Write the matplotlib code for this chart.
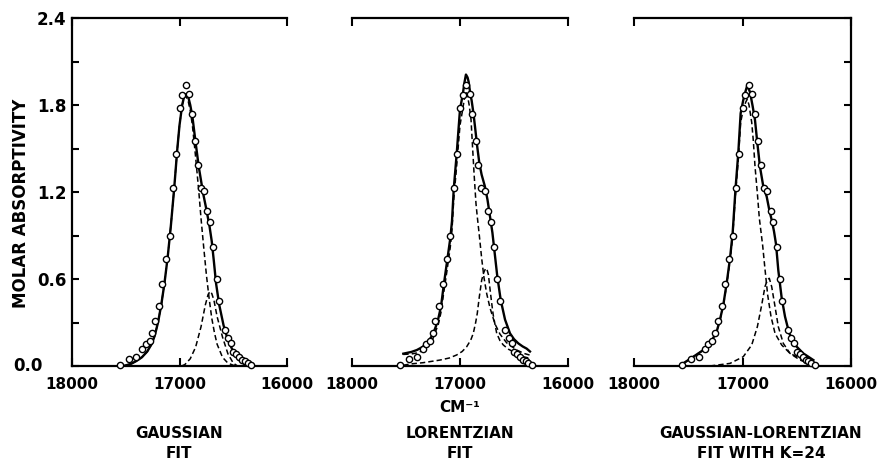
import matplotlib.pyplot as plt

plt.rcParams['font.family'] = ['DejaVu Sans']

# observed spectrum (same points in all three panels)
obs_wn = [17558, 17474, 17402, 17346, 17315, 17278, 17252, 17227, 17193, 17162,
          17124, 17091, 17059, 17031, 17000, 16975, 16941, 16909, 16885, 16853,
          16829, 16801, 16773, 16741, 16717, 16685, 16654, 16633, 16579, 16549,
          16523, 16498, 16474, 16442, 16418, 16393, 16367, 16336]
obs_abs = [0.01, 0.05, 0.065, 0.12, 0.155, 0.175, 0.225, 0.31, 0.415, 0.565,
           0.74, 0.90, 1.225, 1.46, 1.78, 1.87, 1.94, 1.875, 1.74, 1.555,
           1.385, 1.225, 1.205, 1.07, 0.99, 0.82, 0.60, 0.45, 0.25, 0.19,
           0.16, 0.095, 0.085, 0.06, 0.04, 0.035, 0.02, 0.01]

# gaussian fit
g_total_wn = [17520, 17450, 17400, 17350, 17300, 17260, 17230, 17200, 17170, 17140,
              17110, 17080, 17050, 17020, 17000, 16975, 16955, 16940, 16920, 16900,
              16880, 16850, 16820, 16780, 16750, 16720, 16700, 16680, 16660, 16630,
              16590, 16550, 16500, 16450, 16400, 16340]
g_total = [0.0, 0.015, 0.035, 0.06, 0.10, 0.15, 0.21, 0.30, 0.42, 0.57,
           0.75, 0.97, 1.22, 1.50, 1.66, 1.80, 1.865, 1.875, 1.86, 1.80,
           1.72, 1.54, 1.37, 1.19, 1.08, 0.96, 0.86, 0.72, 0.57, 0.42,
           0.28, 0.18, 0.10, 0.045, 0.015, 0.0]
g_band1_wn = [17520, 17450, 17400, 17350, 17300, 17260, 17230, 17200, 17170, 17140,
              17110, 17080, 17050, 17020, 17000, 16975, 16955, 16940, 16920, 16900,
              16880, 16850, 16820, 16800, 16775, 16750, 16725, 16700, 16675, 16650,
              16600, 16550, 16500, 16450]
g_band1 = [0.0, 0.015, 0.035, 0.06, 0.10, 0.15, 0.21, 0.30, 0.42, 0.57,
           0.75, 0.97, 1.22, 1.50, 1.66, 1.80, 1.855, 1.86, 1.83, 1.76,
           1.66, 1.44, 1.20, 1.02, 0.82, 0.63, 0.47, 0.33, 0.23, 0.15,
           0.06, 0.02, 0.005, 0.0]
g_band2_wn = [16980, 16950, 16900, 16850, 16800, 16760, 16735, 16717, 16700, 16680,
              16650, 16600, 16550, 16500, 16460]
g_band2 = [0.0, 0.01, 0.05, 0.13, 0.27, 0.42, 0.49, 0.515, 0.50, 0.455,
           0.34, 0.20, 0.085, 0.02, 0.0]

# lorentzian fit
l_total_wn = [17525, 17450, 17400, 17350, 17300, 17250, 17220, 17200, 17176, 17150,
              17120, 17090, 17074, 17058, 17031, 17000, 16975, 16960, 16945, 16930,
              16920, 16905, 16892, 16875, 16861, 16840, 16821, 16800, 16770, 16745,
              16722, 16700, 16685, 16655, 16623, 16583, 16537, 16500, 16460, 16420,
              16383, 16352]
l_total = [0.085, 0.097, 0.11, 0.13, 0.16, 0.22, 0.28, 0.33, 0.41, 0.56,
           0.72, 0.88, 1.0, 1.22, 1.46, 1.77, 1.87, 1.95, 2.01, 1.99,
           1.96, 1.88, 1.83, 1.74, 1.65, 1.51, 1.40, 1.32, 1.24, 1.145,
           1.03, 0.92, 0.82, 0.62, 0.455, 0.32, 0.225, 0.185, 0.156, 0.135,
           0.12, 0.10]
l_band1_wn = [17525, 17450, 17400, 17350, 17300, 17250, 17200, 17176, 17150, 17120,
              17090, 17074, 17058, 17031, 17000, 16975, 16960, 16945, 16930, 16915,
              16898, 16886, 16870, 16852, 16840, 16821, 16799, 16778, 16753, 16722,
              16676, 16630, 16568, 16475, 16400, 16352]
l_band1 = [0.08, 0.083, 0.09, 0.105, 0.135, 0.19, 0.29, 0.37, 0.51, 0.66,
           0.82, 0.94, 1.15, 1.38, 1.66, 1.77, 1.84, 1.89, 1.86, 1.80,
           1.70, 1.54, 1.33, 1.12, 1.03, 0.90, 0.74, 0.61, 0.50, 0.40,
           0.29, 0.22, 0.16, 0.11, 0.085, 0.075]
l_band2_wn = [17525, 17460, 17340, 17185, 17100, 17031, 16980, 16938, 16900, 16877,
              16855, 16840, 16821, 16799, 16780, 16762, 16750, 16737, 16722, 16706,
              16692, 16660, 16630, 16599, 16550, 16506, 16460, 16414, 16352]
l_band2 = [0.005, 0.014, 0.023, 0.041, 0.055, 0.076, 0.10, 0.133, 0.18, 0.225,
           0.30, 0.363, 0.478, 0.593, 0.645, 0.674, 0.665, 0.63, 0.53, 0.43,
           0.35, 0.225, 0.175, 0.145, 0.115, 0.099, 0.08, 0.064, 0.053]

# gaussian-lorentzian fit
gl_total_wn = [17546, 17453, 17361, 17284, 17238, 17207, 17177, 17146, 17115, 17091,
               17063, 17039, 17017, 16993, 16970, 16956, 16931, 16906, 16885, 16863,
               16839, 16808, 16777, 16753, 16731, 16710, 16691, 16670, 16639, 16608,
               16569, 16516, 16440, 16347]
gl_total = [0.018, 0.064, 0.11, 0.174, 0.237, 0.322, 0.421, 0.570, 0.743, 0.915,
            1.237, 1.467, 1.743, 1.834, 1.90, 1.935, 1.89, 1.79, 1.697, 1.536,
            1.374, 1.237, 1.168, 1.076, 1.007, 0.93, 0.84, 0.66, 0.47, 0.34,
            0.225, 0.145, 0.087, 0.041]
gl_band1_wn = [17546, 17453, 17361, 17284, 17238, 17207, 17177, 17146, 17115, 17091,
               17063, 17039, 17017, 16993, 16970, 16956, 16940, 16915, 16900, 16885,
               16863, 16845, 16814, 16793, 16768, 16737, 16700, 16639, 16562, 16440,
               16380]
gl_band1 = [0.018, 0.064, 0.11, 0.172, 0.234, 0.318, 0.415, 0.56, 0.725, 0.89,
            1.20, 1.42, 1.68, 1.77, 1.82, 1.84, 1.80, 1.68, 1.55, 1.38,
            1.19, 1.02, 0.83, 0.67, 0.49, 0.34, 0.225, 0.145, 0.087, 0.041,
            0.03]
gl_band2_wn = [17300, 17115, 16993, 16915, 16863, 16823, 16793, 16770, 16753, 16731,
               16700, 16670, 16624, 16562, 16470, 16378]
gl_band2 = [0.0, 0.018, 0.064, 0.145, 0.271, 0.421, 0.547, 0.595, 0.605, 0.547,
            0.409, 0.271, 0.156, 0.087, 0.041, 0.014]

x_ticks = [18000, 17000, 16000]
x_tick_labels = ['18000', '17000', '16000']
y_ticks = [0, 0.3, 0.6, 0.9, 1.2, 1.5, 1.8, 2.1, 2.4]
y_tick_labels = ['', '', '0.6', '', '1.2', '', '1.8', '', '2.4']

W, H = 882, 462
fig = plt.figure(figsize=(W / 100, H / 100), dpi=100)


def add_panel(left, right, top=18, bottom=366):
    return fig.add_axes([left / W, 1 - bottom / H, (right - left) / W, (bottom - top) / H])


def style(ax, yside):
    ax.set_xlim(18000, 16000)
    ax.set_ylim(0, 2.4)
    for s in ax.spines.values():
        s.set_linewidth(1.6)
    ax.spines['left'].set_visible(yside == 'left')
    ax.spines['right'].set_visible(yside == 'right')
    ax.set_xticks(x_ticks)
    ax.set_xticklabels(x_tick_labels)
    ax.tick_params(axis='x', direction='in', top=True, bottom=True, length=6,
                   width=1.5, pad=8, labelsize=11)
    for lbl in ax.get_xticklabels():
        lbl.set_fontweight('bold')
    if yside is None:
        ax.set_yticks([])
    else:
        ax.set_yticks(y_ticks)
        ax.tick_params(axis='y', direction='in', length=5, width=1.5, pad=4,
                       left=(yside == 'left'), right=(yside == 'right'),
                       labelleft=(yside == 'left'), labelright=False, labelsize=12)
        ax.set_yticklabels(y_tick_labels, fontweight='bold')


def draw(ax, total_wn, total, b1_wn, b1, b2_wn, b2):
    ax.plot(b1_wn, b1, color='black', lw=1.1, dashes=(3.5, 2))
    ax.plot(b2_wn, b2, color='black', lw=1.1, dashes=(3.5, 2))
    ax.plot(total_wn, total, color='black', lw=1.7)
    ax.plot(obs_wn, obs_abs, 'o', mfc='white', mec='black', ms=4.5, mew=1.0,
            zorder=3, clip_on=False)


ax1 = add_panel(72, 287)
ax2 = add_panel(352, 568)
ax3 = add_panel(634, 851)

style(ax1, 'left')
style(ax2, None)
style(ax3, 'right')

draw(ax1, g_total_wn, g_total, g_band1_wn, g_band1, g_band2_wn, g_band2)
draw(ax2, l_total_wn, l_total, l_band1_wn, l_band1, l_band2_wn, l_band2)
draw(ax3, gl_total_wn, gl_total, gl_band1_wn, gl_band1, gl_band2_wn, gl_band2)

# the 0.0 label sits further left than the others
ax1.annotate('0.0', xy=(0, 0), xycoords=('axes fraction', 'data'), xytext=(-21, 0),
             textcoords='offset points', ha='right', va='center',
             fontsize=12, fontweight='bold')

ax1.set_ylabel('MOLAR ABSORPTIVITY', fontsize=12, fontweight='bold')
ax1.yaxis.set_label_coords((30 - 72) / 215, (366 - 203) / 348)

fig.text(460 / W, 1 - 408 / H, 'CM⁻¹', ha='center', va='center', fontsize=11, fontweight='bold')

labels = [(179, 'GAUSSIAN', 'FIT'),
          (460, 'LORENTZIAN', 'FIT'),
          (761, 'GAUSSIAN-LORENTZIAN', 'FIT WITH K=24')]
for xc, line1, line2 in labels:
    fig.text(xc / W, 1 - 434 / H, line1, ha='center', va='center', fontsize=11, fontweight='bold')
    fig.text(xc / W, 1 - 454 / H, line2, ha='center', va='center', fontsize=11, fontweight='bold')

fig.savefig('out.png', dpi=100)
